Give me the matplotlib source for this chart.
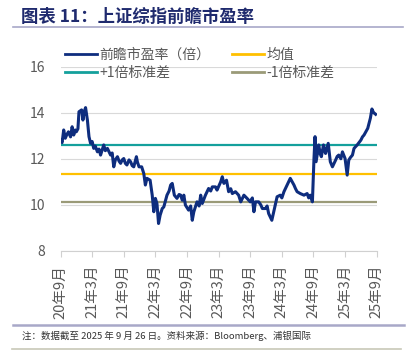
import matplotlib

matplotlib.use("Agg")
import matplotlib.pyplot as plt
from matplotlib.lines import Line2D

plt.rcParams["font.family"] = ["Noto Sans CJK SC", "DejaVu Sans"]

# months since 2020-09, forward PE
months = [0, 0.3, 0.6, 0.9, 1.2, 1.5, 1.9, 2.2, 2.5, 2.8, 3.0, 3.3, 3.5, 4.0,
          4.25, 4.5, 4.75, 5.1, 5.4, 5.7, 6.0, 6.3, 6.6, 7.0, 7.3, 7.6, 8.2,
          8.5, 8.9, 9.2, 9.5, 9.8, 10.1, 10.4, 10.8, 11.1, 11.4, 11.7, 12.0,
          12.3, 12.6, 13.0, 13.3, 13.6, 13.9, 14.4, 14.6, 14.9, 15.4, 15.8,
          16.1, 16.4, 17.0, 17.4, 17.7, 18.0, 18.3, 18.6, 18.9, 19.3, 19.6,
          20.2, 20.6, 20.9, 21.2, 21.6, 22.1, 22.5, 22.8, 23.1, 23.4, 23.7,
          24.3, 24.7, 25.0, 25.3, 25.9, 26.3, 26.6, 26.9, 27.5, 28.1, 28.5,
          28.8, 29.4, 29.7, 30.4, 30.7, 31.0, 31.5, 31.9, 32.3, 32.6, 33.2,
          33.8, 34.2, 34.8, 35.4, 36.0, 36.4, 36.7, 37.0, 37.6, 38.0, 38.3,
          38.9, 39.2, 39.5, 40.1, 40.6, 41.1, 41.7, 42.0, 42.4, 43.0, 43.6,
          44.3, 44.6, 44.9, 45.5, 46.2, 46.8, 47.1, 47.4, 47.8, 48.1, 48.3,
          48.5, 48.8, 49.0, 49.3, 49.5, 49.9, 50.1, 50.3, 50.8, 51.2, 51.6,
          52.2, 52.5, 52.8, 53.2, 53.5, 54.0, 54.4, 54.7, 55.0, 55.4, 55.7,
          56.3, 57.0, 57.3, 57.6, 58.0, 58.3, 58.8, 59.1, 59.4, 59.6, 59.8]
pe = [12.81, 12.70, 13.25, 12.89, 13.05, 13.17, 12.95, 13.39, 13.03, 13.25,
      13.17, 13.30, 14.04, 14.12, 13.68, 14.05, 14.22, 13.68, 12.96, 12.67,
      12.75, 12.45, 12.55, 12.30, 12.42, 12.16, 12.60, 12.35, 12.45, 12.30,
      12.16, 12.25, 11.65, 11.95, 12.09, 11.90, 11.80, 11.95, 12.01, 11.80,
      11.73, 11.95, 11.87, 11.70, 11.65, 12.09, 11.85, 11.65, 11.65, 11.36,
      10.86, 11.15, 11.07, 10.42, 9.70, 10.28, 10.05, 9.19, 9.55, 9.84,
      9.91, 10.42, 10.60, 10.86, 10.93, 10.42, 10.28, 10.45, 10.42, 10.20,
      10.42, 9.99, 9.77, 9.95, 9.33, 9.70, 10.13, 9.95, 10.42, 10.06, 10.42,
      10.71, 10.60, 10.78, 10.78, 10.64, 11.00, 11.22, 10.93, 11.07, 10.57,
      10.70, 10.49, 10.57, 10.42, 10.13, 10.42, 10.28, 10.13, 10.30, 9.70,
      10.13, 10.13, 10.00, 9.84, 9.84, 9.95, 9.62, 9.33, 9.84, 10.35, 10.42,
      10.30, 10.57, 10.86, 11.15, 10.86, 10.70, 10.57, 10.49, 10.42, 10.49,
      10.30, 10.42, 10.13, 12.01, 12.96, 11.87, 12.30, 12.60, 12.20, 12.09,
      12.60, 12.40, 12.23, 12.67, 11.87, 11.65, 11.94, 12.10, 12.16, 12.00,
      12.30, 12.01, 11.29, 11.94, 12.05, 12.16, 12.45, 12.60, 12.81, 12.95,
      13.03, 13.20, 13.32, 13.76, 14.16, 14.00, 13.97, 13.93]

mean_pe = 11.36
plus_1sd = 12.59
minus_1sd = 10.13

tick_months = [0, 6, 12, 18, 24, 30, 36, 42, 48, 54, 60]
tick_labels = ["20年9月", "21年3月", "21年9月", "22年3月", "22年9月", "23年3月",
               "23年9月", "24年3月", "24年9月", "25年3月", "25年9月"]

NAVY = "#0E2D7E"
TEAL = "#14A09C"
GOLD = "#FFC000"
OLIVE = "#9A9A78"
GREY = "#595959"

fig = plt.figure(figsize=(4.09, 3.6), dpi=100)
ax = fig.add_axes([0.148, 0.303, 0.773, 0.512])

ax.axhline(plus_1sd, color=TEAL, lw=1.6, zorder=2)
ax.axhline(mean_pe, color=GOLD, lw=1.6, zorder=2)
ax.axhline(minus_1sd, color=OLIVE, lw=1.6, zorder=2)
ax.plot(months, pe, color=NAVY, lw=2.2, zorder=3, solid_joinstyle="round")

ax.set_xlim(0, 60)
ax.set_ylim(8, 16)
ax.set_yticks([8, 10, 12, 14, 16])
ax.set_xticks(tick_months)
ax.set_xticklabels(tick_labels, rotation=90, fontsize=10.5, color=GREY)
ax.tick_params(axis="y", length=0, pad=11, labelsize=10, labelcolor=GREY)
ax.tick_params(axis="x", length=4, color="#D0D0D0", pad=6)
ax.grid(axis="y", color="#D9D9D9", lw=0.8, zorder=0)
for side in ("top", "right", "left"):
    ax.spines[side].set_visible(False)
ax.spines["bottom"].set_color("#D0D0D0")

handles = [
    Line2D([], [], color=NAVY, lw=2.0),
    Line2D([], [], color=TEAL, lw=2.0),
    Line2D([], [], color=GOLD, lw=2.0),
    Line2D([], [], color=OLIVE, lw=2.0),
]
labels = ["前瞻市盈率（倍）", "+1倍标准差", "均值", "-1倍标准差"]
fig.legend(handles, labels, ncol=2, loc="center left",
           bbox_to_anchor=(0.159, 0.822), frameon=False, fontsize=10,
           labelcolor=GREY, handlelength=2.3, handletextpad=0.2,
           columnspacing=1.5, labelspacing=0.3, borderpad=0,
           borderaxespad=0)

fig.text(0.052, 0.952, "图表 11：上证综指前瞻市盈率", fontsize=12.5,
         fontweight="bold", color="#1F2A6E", va="center")
fig.add_artist(Line2D([0.032, 0.985], [0.925, 0.925], color="#A8A8C8", lw=1.2))
fig.add_artist(Line2D([0.032, 0.988], [0.097, 0.097], color="#A8A8C8", lw=1.8))
fig.text(0.055, 0.066, "注：数据截至 2025 年 9 月 26 日。资料来源：Bloomberg、浦银国际",
         fontsize=6.8, color="#333333", va="center")
fig.add_artist(Line2D([0.03, 0.98], [0.03, 0.03], color="#C8C8B8", lw=1.2))

fig.savefig("out.png", dpi=100)
